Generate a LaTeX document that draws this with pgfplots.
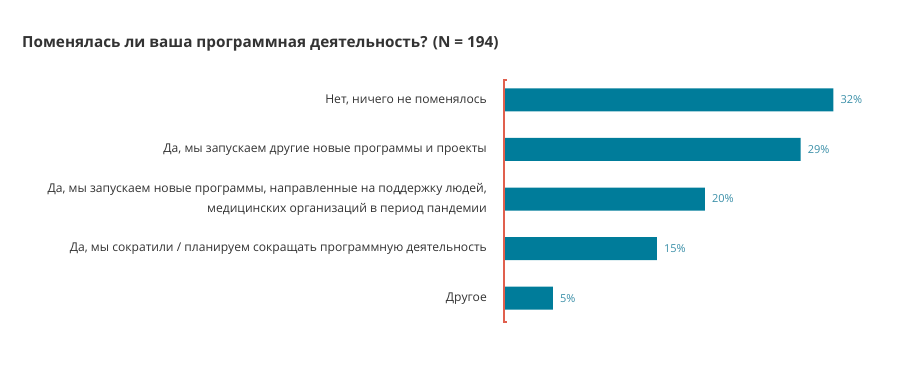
\documentclass[border=0pt]{standalone}
\usepackage{fontspec}
\setmainfont{Open Sans}
\usepackage{pgfplots}
\pgfplotsset{compat=1.18}
\definecolor{bar}{HTML}{007C9A}
\definecolor{lab}{HTML}{3A8FA8}
\definecolor{axr}{HTML}{E0604E}
\definecolor{txt}{HTML}{333333}
\begin{document}
\begin{tikzpicture}[x=1pt,y=1pt]
\path[use as bounding box] (0,0) rectangle (916,367);
\node[anchor=base west, font=\fontsize{15.3}{18}\selectfont\bfseries, text=txt, inner sep=0pt] at (22,319) {Поменялась ли ваша программная деятельность? (N = 194)};
\begin{axis}[
  at={(504pt,45pt)}, anchor=south west,
  scale only axis, width=329.3pt, height=242pt,
  xmin=0, xmax=32.3, ymin=-0.4, ymax=4.48, y dir=reverse,
  xbar, bar width=23pt,
  axis x line=none, axis y line=left, y axis line style={draw=none, -},
  clip=false,
  ytick={0,1,2,3,4},
  yticklabels={{Нет, ничего не поменялось},{Да, мы запускаем другие новые программы и проекты},{Да, мы запускаем новые программы, направленные на поддержку людей,\\медицинских организаций в период пандемии},{Да, мы сократили / планируем сокращать программную деятельность},{Другое}},
  yticklabel style={align=right, font=\fontsize{12.1}{20}\selectfont, text=txt, inner sep=0pt, xshift=-17pt},
  major tick length=0pt, tick style={draw=none},
  point meta=explicit symbolic,
  nodes near coords={\pgfplotspointmeta},
  nodes near coords style={font=\fontsize{11}{12}\selectfont, text=lab, anchor=west, inner sep=0pt, xshift=7pt},
]
\addplot[fill=bar, draw=none] coordinates {(32.3,0) [32\%] (29.1,1) [29\%] (19.7,2) [20\%] (15.0,3) [15\%] (4.8,4) [5\%]};
\draw[axr, line width=1.1pt] (axis cs:0.25,-0.4) -- (axis cs:0,-0.4) -- (axis cs:0,4.48) -- (axis cs:0.25,4.48);
\end{axis}
\end{tikzpicture}
\end{document}
